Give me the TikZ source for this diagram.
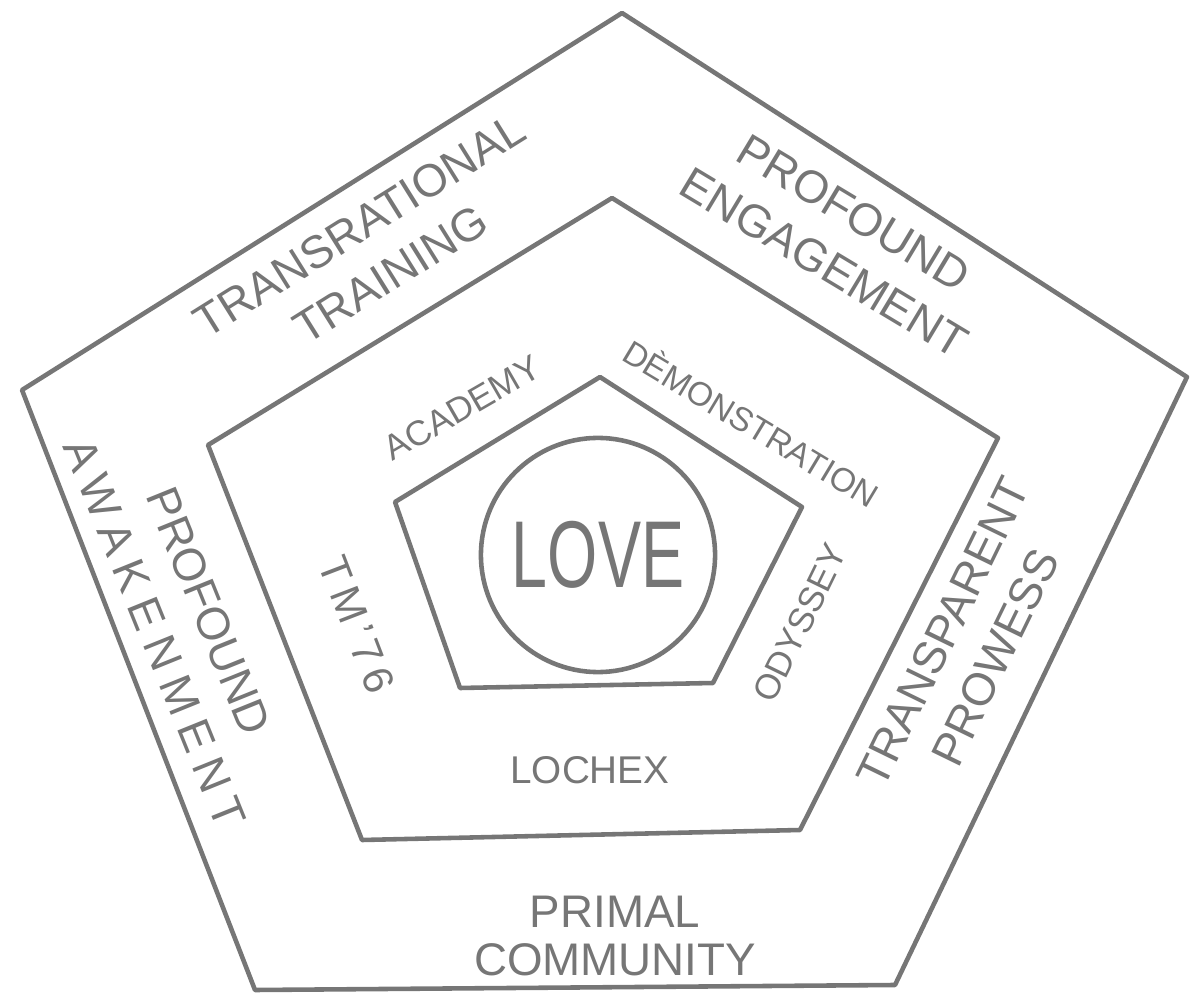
\documentclass[tikz,border=0pt]{standalone}
\usepackage{fontspec}
\setsansfont{Liberation Sans}
\definecolor{ink}{RGB}{118,118,118}

\begin{document}
\begin{tikzpicture}[
x=0.01cm,
y=-0.01cm,
every node/.style={
text=ink,
align=center,
inner sep=0pt
},
edge/.style={
draw=ink,
line width=1.3pt,
line join=round
},
big/.style={font=\sffamily\fontsize{13}{16.5}\selectfont},
small/.style={font=\sffamily\fontsize{10}{12}\selectfont}
]

\useasboundingbox (0,0) rectangle (1190,997);

\coordinate (O1) at (622,13);
\coordinate (O2) at (1187,377);
\coordinate (O3) at (895,985);
\coordinate (O4) at (255,990);
\coordinate (O5) at (22,390);

\coordinate (M1) at (612,198);
\coordinate (M2) at (998,438);
\coordinate (M3) at (800,830);
\coordinate (M4) at (362,840);
\coordinate (M5) at (208,445);

\coordinate (I1) at (600,377);
\coordinate (I2) at (802,507);
\coordinate (I3) at (713,683);
\coordinate (I4) at (460,688);
\coordinate (I5) at (395,502);

\draw[edge] (O1) -- (O2) -- (O3) -- (O4) -- (O5) -- cycle;
\draw[edge] (M1) -- (M2) -- (M3) -- (M4) -- (M5) -- cycle;
\draw[edge] (I1) -- (I2) -- (I3) -- (I4) -- (I5) -- cycle;

\node[edge, circle, minimum size=2.34cm, font=\sffamily\fontsize{27}{30}\selectfont] (L) at (598,555)
{\scalebox{0.68}[1]{LOVE}};

\node[big, rotate=32] (T) at (375,250)
{TRANSRATIONAL\\TRAINING};

\node[big, rotate=-31] (E) at (839,238)
{PROFOUND\\ENGAGEMENT};

\node[big, rotate=-68] (W) at (182,622)
{PROFOUND\\{\addfontfeature{LetterSpace=22}AWAKENMENT}};

\node[big, rotate=64] (P) at (969,645)
{TRANSPARENT\\PROWESS};

\node[big, font=\sffamily\fontsize{13}{13.5}\selectfont] (C) at (615,936)
{PRIMAL\\COMMUNITY};

\node[small, rotate=30] (A) at (462,408)
{ACADEMY};

\node[small, rotate=-31, font=\sffamily\fontsize{9.5}{12}\selectfont] (D) at (752,422)
{DÈMONSTRATION};

\node[small, rotate=64] (Y) at (800,623)
{ODYSSEY};

\node[small, rotate=-69, font=\sffamily\fontsize{12}{14}\selectfont\addfontfeature{LetterSpace=15}] (S) at (357,625)
{TM'76};

\node[small, font=\sffamily\fontsize{11}{13}\selectfont] (X) at (590,770)
{LOCHEX};

\end{tikzpicture}
\end{document}
